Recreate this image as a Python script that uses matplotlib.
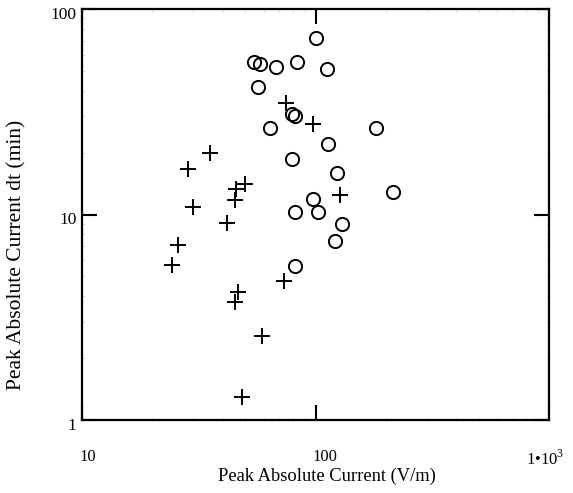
import matplotlib
matplotlib.use("Agg")
import matplotlib.pyplot as plt
import matplotlib.transforms as mtransforms
from matplotlib.ticker import NullFormatter, LogLocator

# Circle series (x: V/m, y: min)
circle_x = [100.4, 54.5, 57.8, 67.8, 83.1, 111.7, 56.6, 63.9, 79.1, 81.7, 181.1,
            113.4, 79.1, 123.2, 215.4, 97.9, 81.7, 102.8, 130.2, 121.2, 81.7]
circle_y = [72.3, 55.4, 54.0, 52.0, 55.4, 50.9, 41.9, 26.4, 30.7, 30.2, 26.3,
            22.0, 18.6, 16.0, 12.9, 11.86, 10.25, 10.25, 8.99, 7.46, 5.63]

# Plus series
plus_x = [74.4, 97.9, 35.5, 28.5, 49.9, 45.6, 45.2, 29.8, 127.3, 41.7, 25.8,
          24.2, 73.5, 46.7, 45.2, 58.8, 48.3]
plus_y = [34.9, 27.5, 20.0, 16.65, 14.0, 13.3, 11.7, 10.9, 12.4, 9.06, 7.11,
          5.68, 4.75, 4.21, 3.77, 2.57, 1.29]

x_ticks = [10, 100, 1000]
x_ticklabels = ["10", "100", "1\u202210$^3$"]
y_ticks = [1, 10, 100]
y_ticklabels = ["1", "10", "100"]

xlabel = "Peak Absolute Current (V/m)"
ylabel = "Peak Absolute Current dt (min)"

plt.rcParams['font.family'] = ['Liberation Serif', 'DejaVu Serif']
plt.rcParams['mathtext.fontset'] = 'custom'
plt.rcParams['mathtext.rm'] = 'Liberation Serif'

fig = plt.figure(figsize=(5.73, 4.93), dpi=100)
ax = fig.add_axes([82/573, 1-420/493, (549-82)/573, (420-9)/493])

ax.plot(circle_x, circle_y, linestyle='none', marker='o', markersize=9.5,
        markerfacecolor='none', markeredgecolor='black', markeredgewidth=1.4)
ax.plot(plus_x, plus_y, linestyle='none', marker='+', markersize=12,
        markeredgecolor='black', markeredgewidth=1.4)

ax.set_xscale('log')
ax.set_yscale('log')
ax.set_xlim(10, 1000)
ax.set_ylim(1, 100)

ax.set_xticks(x_ticks)
ax.set_xticklabels(x_ticklabels)
ax.set_yticks(y_ticks)
ax.set_yticklabels(y_ticklabels)
ax.xaxis.set_minor_locator(LogLocator(base=10, subs=range(2, 10)))
ax.yaxis.set_minor_locator(LogLocator(base=10, subs=range(2, 10)))
ax.xaxis.set_minor_formatter(NullFormatter())
ax.yaxis.set_minor_formatter(NullFormatter())

ax.tick_params(axis='both', which='major', direction='in', length=11, width=1.5,
               top=True, right=True, colors='black')
ax.tick_params(axis='both', which='minor', direction='in', length=2, width=0.5,
               top=True, right=True, colors='#c8c8c8')
ax.tick_params(axis='x', which='major', pad=21, labelsize=12)
ax.tick_params(axis='y', which='major', pad=4, labelsize=12.5)

for sp in ax.spines.values():
    sp.set_linewidth(1.6)

# small horizontal shifts of x tick labels
shifts = [6, 9, -4]
for lab, dx in zip(ax.get_xticklabels(), shifts):
    lab.set_transform(lab.get_transform() + mtransforms.ScaledTranslation(dx/100, 0, fig.dpi_scale_trans))
for lab in ax.get_yticklabels():
    lab.set_transform(lab.get_transform() + mtransforms.ScaledTranslation(0, -4/100, fig.dpi_scale_trans))

fig.text(327/573, 1-476/493, xlabel, ha='center', va='center', fontsize=13.3)
fig.text(17/573, 1-255/493, ylabel, ha='center', va='center', rotation=90, fontsize=15.5)

fig.savefig("out.png", dpi=100)
